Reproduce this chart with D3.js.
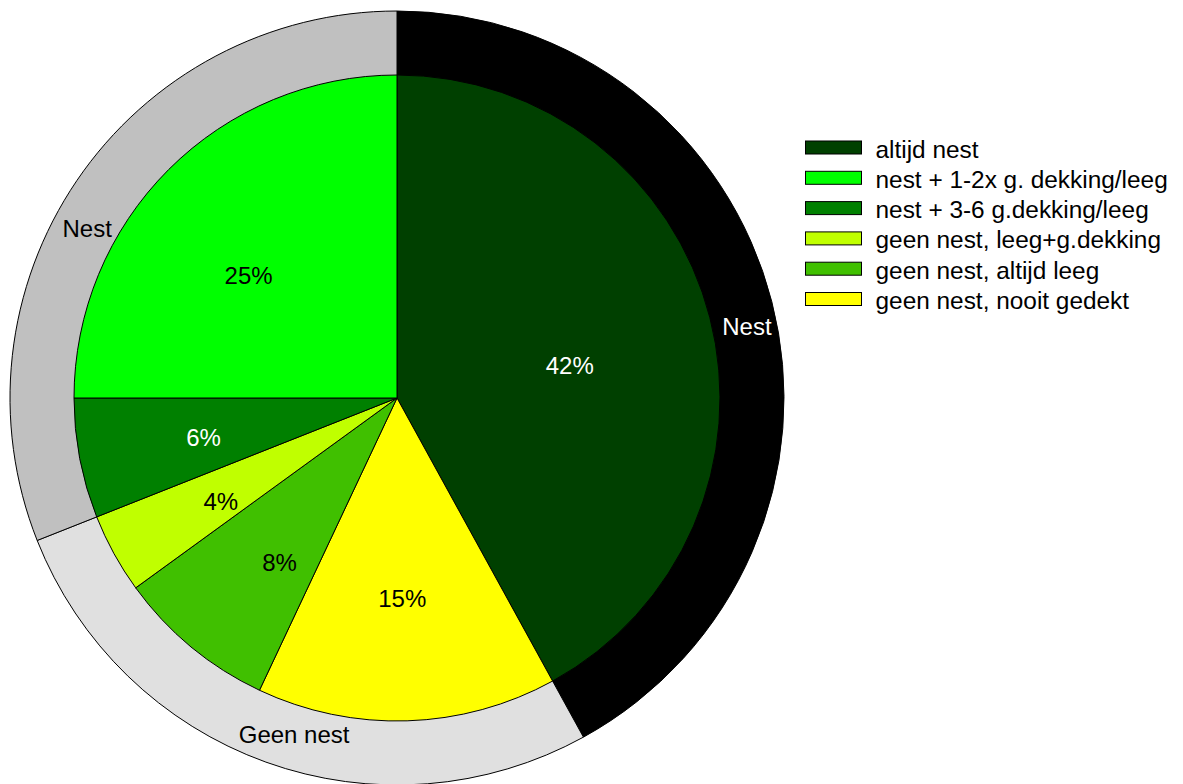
<!DOCTYPE html>
<html>
<head>
<meta charset="utf-8">
<script src="https://cdn.jsdelivr.net/npm/d3@7"></script>
<style>
  body { margin: 0; background: white; }
  text { font-family: "Liberation Sans", Arial, sans-serif; }
</style>
</head>
<body>
<div id="chart"></div>
<script>
// legend order
var categories = ['altijd nest', 'nest + 1-2x g. dekking/leeg', 'nest + 3-6 g.dekking/leeg',
                  'geen nest, leeg+g.dekking', 'geen nest, altijd leeg', 'geen nest, nooit gedekt'];
var percents = [42, 25, 6, 4, 8, 15];
var colors = ['#004000', '#00ff00', '#008000', '#c0ff00', '#40c000', '#ffff00'];
var label_colors = ['white', 'black', 'white', 'black', 'black', 'black'];
// small nudges of the percent labels off the slice centroid (px)
var label_nudge = [[-21, 17], [-7, 19], [3, 2], [-1, 7], [10, 10], [-1, 1]];

// clockwise from 12 o'clock
var draw_order = [0, 5, 4, 3, 2, 1];

// outer ring
var ring_labels = ['Nest', 'Geen nest', 'Nest'];
var ring_members = [[0], [5, 4, 3], [2, 1]];
var ring_colors = ['#000000', '#e0e0e0', '#c0c0c0'];
var ring_text_colors = ['white', 'black', 'black'];
var ring_nudge = [[7, 17], [17, 4], [-17, 30]];

var width = 1183, height = 784;
var cx = 397, cy = 398;
var r_inner = 323, r_outer = 387;
var fs = 24;

var svg = d3.select('#chart').append('svg')
  .attr('width', width)
  .attr('height', height);

var pie_g = svg.append('g')
  .attr('transform', 'translate(' + cx + ',' + cy + ')');

var pie = d3.pie().sort(null).value(function(d){ return d.value; });

// outer ring
var ring_data = ring_labels.map(function(d, i){
  var v = d3.sum(ring_members[i], function(j){ return percents[j]; });
  return {label: d, value: v, color: ring_colors[i], tc: ring_text_colors[i], nudge: ring_nudge[i]};
});

var ring_arc = d3.arc().innerRadius(0).outerRadius(r_outer);
var ring_label_arc = d3.arc().innerRadius(354).outerRadius(354);

pie_g.selectAll('path.ring')
  .data(pie(ring_data))
  .enter()
  .append('path')
  .attr('class', 'ring')
  .attr('d', ring_arc)
  .style('fill', function(d){ return d.data.color; })
  .style('stroke', 'black')
  .style('stroke-width', 1);

// inner pie
var slice_data = draw_order.map(function(i){
  return {value: percents[i], color: colors[i], tc: label_colors[i], nudge: label_nudge[i]};
});

var arc = d3.arc().innerRadius(0).outerRadius(r_inner);
var label_arc = d3.arc().innerRadius(200).outerRadius(200);

pie_g.selectAll('path.slice')
  .data(pie(slice_data))
  .enter()
  .append('path')
  .attr('class', 'slice')
  .attr('d', arc)
  .style('fill', function(d){ return d.data.color; })
  .style('stroke', 'black')
  .style('stroke-width', 1);

function place(arc_gen){
  return function(d){
    var c = arc_gen.centroid(d);
    return 'translate(' + (c[0] + d.data.nudge[0]) + ',' + (c[1] + d.data.nudge[1]) + ')';
  };
}

pie_g.selectAll('text.pct')
  .data(pie(slice_data))
  .enter()
  .append('text')
  .attr('class', 'pct')
  .attr('transform', place(label_arc))
  .attr('dy', '0.35em')
  .style('text-anchor', 'middle')
  .style('font-size', fs + 'px')
  .style('fill', function(d){ return d.data.tc; })
  .text(function(d){ return d.data.value + '%'; });

pie_g.selectAll('text.ring-label')
  .data(pie(ring_data))
  .enter()
  .append('text')
  .attr('class', 'ring-label')
  .attr('transform', place(ring_label_arc))
  .attr('dy', '0.35em')
  .style('text-anchor', 'middle')
  .style('font-size', fs + 'px')
  .style('fill', function(d){ return d.data.tc; })
  .text(function(d){ return d.data.label; });

// legend
var legend = svg.append('g')
  .attr('transform', 'translate(805.5, 141)');

var row_h = 30.3;

var rows = legend.selectAll('g')
  .data(categories)
  .enter()
  .append('g')
  .attr('transform', function(d, i){ return 'translate(0,' + (i * row_h) + ')'; });

rows.append('rect')
  .attr('width', 56)
  .attr('height', 13)
  .style('fill', function(d, i){ return colors[i]; })
  .style('stroke', 'black')
  .style('stroke-width', 1);

rows.append('text')
  .attr('x', 70)
  .attr('y', 8)
  .attr('dy', '0.35em')
  .style('font-size', '24.4px')
  .style('fill', 'black')
  .text(function(d){ return d; });
</script>
</body>
</html>
